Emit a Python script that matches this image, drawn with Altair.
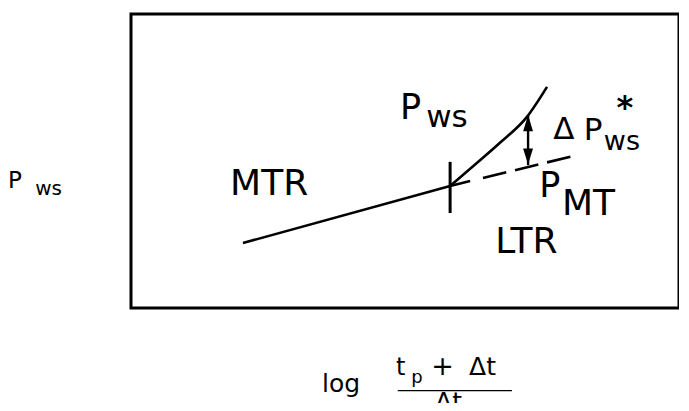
import altair as alt
import pandas as pd

# Schematic Horner plot: units are arbitrary (log time vs. shut-in pressure)
# Middle-time-region straight line
mtr_x = [2.01, 5.73, 6.09]
mtr_y = [2.21, 4.15, 4.32]
# Extrapolated MTR line (dashed) -> P_MT
ext_x = [6.32, 7.94]
ext_y = [4.42, 5.17]
# Measured P_ws curving upward in the late-time region
pws_x = [5.73, 6.21, 6.62, 7.11, 7.47]
pws_y = [4.15, 4.93, 5.61, 6.50, 7.52]
# End of MTR marker
tick_x = [5.73, 5.73]
tick_y = [3.23, 4.97]
# Delta P_ws* double arrow
arrow_x = [7.13, 7.13]
arrow_y = [4.86, 6.56]
head_up = (7.13, 6.28)
head_dn = (7.13, 5.15)

# Labels: text, x (left edge), y (baseline), font size
lab_text = ["P", "ws", "\u0394", "P", "ws", "P", "MT", "P", "ws",
            "log", "t", "p", "+", "\u0394t", "\u0394t"]
lab_x = [4.83, 5.30, 7.58, 8.13, 8.49, 7.33, 7.74, -2.21, -1.72,
         3.43, 4.76, 5.03, 5.39, 6.07, 5.46]
lab_y = [6.43, 6.16, 5.75, 5.71, 5.37, 3.78, 3.16, 4.08, 3.84,
         -2.86, -2.28, -2.55, -2.28, -2.28, -3.47]
lab_size = [35, 31, 31, 31, 27, 35, 36, 23, 20,
            25, 24, 18, 27, 25, 25]

region_text = ["MTR", "LTR"]
region_x = [2.48, 7.10]
region_y = [3.84, 1.87]

star_x = [8.87]
star_y = [6.46]

frac_x = [4.79, 6.84]
frac_y = [-2.81, -2.81]

FONT = "DejaVu Sans"
xs = alt.Scale(domain=[0, 9.84], nice=False, zero=False)
ys = alt.Scale(domain=[0, 10], nice=False, zero=False)
X = lambda: alt.X("x:Q", scale=xs, axis=None)
Y = lambda: alt.Y("y:Q", scale=ys, axis=None)

mtr = alt.Chart(pd.DataFrame({"x": mtr_x, "y": mtr_y})).mark_line(
    color="black", strokeWidth=2.6).encode(x=X(), y=Y())
ext = alt.Chart(pd.DataFrame({"x": ext_x, "y": ext_y})).mark_line(
    color="black", strokeWidth=2.6, strokeDash=[24, 9]).encode(x=X(), y=Y())
pws = alt.Chart(pd.DataFrame({"x": pws_x, "y": pws_y})).mark_line(
    color="black", strokeWidth=2.6, interpolate="monotone").encode(x=X(), y=Y())
tick = alt.Chart(pd.DataFrame({"x": tick_x, "y": tick_y})).mark_line(
    color="black", strokeWidth=3).encode(x=X(), y=Y())
shaft = alt.Chart(pd.DataFrame({"x": arrow_x, "y": arrow_y})).mark_line(
    color="black", strokeWidth=2.4).encode(x=X(), y=Y())
up = alt.Chart(pd.DataFrame({"x": [head_up[0]], "y": [head_up[1]]})).mark_point(
    shape="M0,-1L0.62,1L-0.62,1Z", filled=True, color="black", opacity=1,
    size=256).encode(x=X(), y=Y())
dn = alt.Chart(pd.DataFrame({"x": [head_dn[0]], "y": [head_dn[1]]})).mark_point(
    shape="M0,1L0.62,-1L-0.62,-1Z", filled=True, color="black", opacity=1,
    size=256).encode(x=X(), y=Y())
frac = alt.Chart(pd.DataFrame({"x": frac_x, "y": frac_y})).mark_line(
    color="black", strokeWidth=1.2).encode(x=X(), y=Y())

labels = alt.Chart(pd.DataFrame({"t": lab_text, "x": lab_x, "y": lab_y,
                                 "s": lab_size})).mark_text(
    align="left", baseline="alphabetic", font=FONT, color="black").encode(
    x=X(), y=Y(), text="t:N", size=alt.Size("s:Q", scale=None, legend=None))
regions = alt.Chart(pd.DataFrame({"t": region_text, "x": region_x,
                                  "y": region_y})).mark_text(
    align="center", baseline="alphabetic", font=FONT, fontSize=36,
    color="black").encode(x=X(), y=Y(), text="t:N")
star = alt.Chart(pd.DataFrame({"t": ["*"], "x": star_x, "y": star_y})).mark_text(
    align="center", baseline="alphabetic", font=FONT, fontSize=32,
    fontWeight="bold", color="black").encode(x=X(), y=Y(), text="t:N")

chart = alt.layer(mtr, ext, pws, tick, shaft, up, dn, frac, labels, regions,
                  star).properties(
    width=548, height=294, autosize="none",
    padding={"left": 123, "top": 6, "right": 0, "bottom": 95},
    background="white",
).configure_view(stroke="black", strokeWidth=3)

chart.save("out.html", embed_options={"renderer": "svg", "actions": False})
